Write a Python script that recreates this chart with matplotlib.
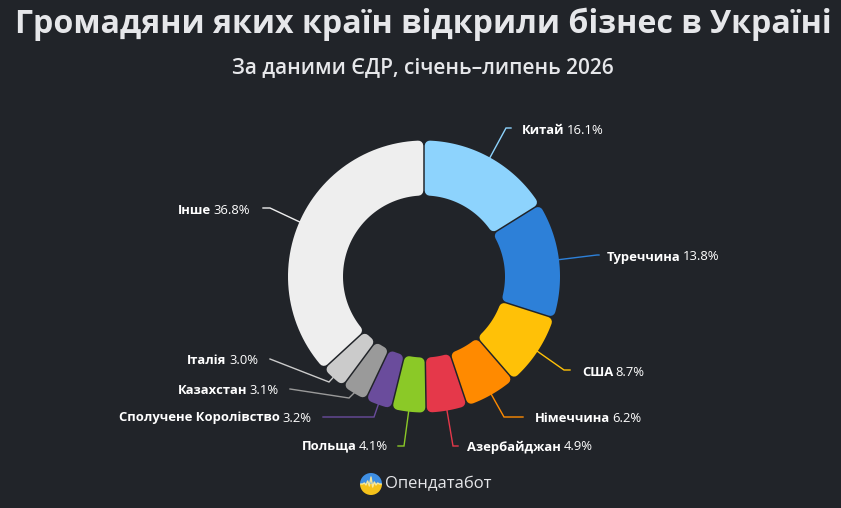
import numpy as np
import matplotlib
matplotlib.use("Agg")
import matplotlib.pyplot as plt
from matplotlib.patches import Polygon, Wedge

# data
countries = ["Китай", "Туреччина", "США", "Німеччина", "Азербайджан", "Польща",
             "Сполучене Королівство", "Казахстан", "Італія", "Інше"]
shares = [16.1, 13.8, 8.7, 6.2, 4.9, 4.1, 3.2, 3.1, 3.0, 36.8]
colors = ["#8dd3fd", "#2d80d8", "#ffc107", "#ff8a00", "#e5384a", "#8bc927",
          "#6a4c9c", "#9a9a9a", "#cbcbcb", "#eeeeee"]

title = "Громадяни яких країн відкрили бізнес в Україні"
subtitle = "За даними ЄДР, січень–липень 2026"
brand = "Опендатабот"

# layout (pixel coordinates, y down)
W, H = 841, 508
cx, cy = 424, 276.5
r_out, r_in = 136, 81
gap = 1.5
rc = 5
# label leader: elbow point, end of line, text anchor x/y, side
label_elbow = [(506, 128), (597, 255), (564, 370), (504, 417), (453, 446),
               (404, 446), (374, 417), (349, 398), (329, 382), (270, 208)]
label_end = [(511, 128), (599, 255), (570, 370), (523, 417), (458, 446),
             (398, 446), (323, 417), (290, 389), (270, 359), (263, 208)]
label_text = [(522, 130), (607, 257), (582, 372), (535, 419), (467, 447),
              (388, 446), (311, 418), (279, 390), (258, 361), (250, 211)]
label_side = ["l", "l", "l", "l", "l", "r", "r", "r", "r", "r"]

bg = "#212429"
fam = ["Open Sans", "DejaVu Sans"]

fig = plt.figure(figsize=(W / 100, H / 100), dpi=100, facecolor=bg)
ax = fig.add_axes([0, 0, 1, 1])
ax.set_xlim(0, W)
ax.set_ylim(H, 0)
ax.set_aspect("equal")
ax.axis("off")
ax.set_facecolor(bg)


def pt(r, t):
    return cx + r * np.sin(t), cy - r * np.cos(t)


total = sum(shares)
start = 0.0
mids = []
for val, col in zip(shares, colors):
    t1 = start / total * 2 * np.pi
    t2 = (start + val) / total * 2 * np.pi
    start += val
    mids.append((t1 + t2) / 2)
    # shrink the slice, then stroke it with round joins -> rounded corners
    s = gap / 2 + rc
    ro = r_out - rc
    ri = r_in + rc
    a_o = np.arcsin(s / ro)
    a_i = np.arcsin(s / ri)
    to = np.linspace(t1 + a_o, t2 - a_o, 60)
    ti = np.linspace(t2 - a_i, t1 + a_i, 60)
    xs = np.concatenate([cx + ro * np.sin(to), cx + ri * np.sin(ti)])
    ys = np.concatenate([cy - ro * np.cos(to), cy - ri * np.cos(ti)])
    poly = Polygon(np.column_stack([xs, ys]), closed=True, facecolor=col,
                   edgecolor=col, linewidth=2 * rc * 0.72, joinstyle="round")
    ax.add_patch(poly)

# labels
fig.canvas.draw()
renderer = fig.canvas.get_renderer()
fs = 9.4
for i, (name, val, col) in enumerate(zip(countries, shares, colors)):
    x0, y0 = pt(r_out, mids[i])
    ex, ey = label_elbow[i]
    lx, ly = label_end[i]
    ax.plot([x0, ex, lx], [y0, ey, ly], color=col, lw=1.0, solid_joinstyle="miter")
    tx, ty = label_text[i]
    pct = f"{val:.1f}%"
    if label_side[i] == "l":
        t_name = ax.text(tx, ty, name, color="white", fontsize=fs, fontweight="bold",
                         family=fam, ha="left", va="center")
        wname = t_name.get_window_extent(renderer).width
        ax.text(tx + wname + 2.5, ty, pct, color="white", fontsize=fs, family=fam,
                ha="left", va="center")
    else:
        t_pct = ax.text(tx, ty, pct, color="white", fontsize=fs, family=fam,
                        ha="right", va="center")
        wpct = t_pct.get_window_extent(renderer).width
        ax.text(tx - wpct - 2.5, ty, name, color="white", fontsize=fs, fontweight="bold",
                family=fam, ha="right", va="center")

# titles, title scaled to reference width
t_title = ax.text(423, 24, title, color="#e6e7ea", fontsize=24, fontweight="bold",
                  family=fam, ha="center", va="center")
tw = t_title.get_window_extent(renderer).width
t_title.set_fontsize(24 * 819 / tw)
ax.text(423, 68, subtitle, color="#e6e7ea", fontsize=15, fontweight="semibold",
        family=fam, ha="center", va="center")

# brand logo
lx0, ly0, lr = 371, 484, 11
ax.add_patch(Wedge((lx0, ly0), lr, 0, 180, facecolor="#f5c21b", edgecolor="none"))
ax.add_patch(Wedge((lx0, ly0), lr, 180, 360, facecolor="#3f8fe3", edgecolor="none"))
wx = np.linspace(lx0 - lr + 1, lx0 + lr - 1, 13)
wy = ly0 + np.array([0, 0, -1, 1, -3, 2, -7, 3, -2, 1, -1, 0, 0])
ax.plot(wx, wy, color="#f7e79a", lw=1.0)
ax.text(385, 484, brand, color="#e6e7ea", fontsize=12, family=fam,
        ha="left", va="center")

fig.savefig("out.png", dpi=100, facecolor=bg)
